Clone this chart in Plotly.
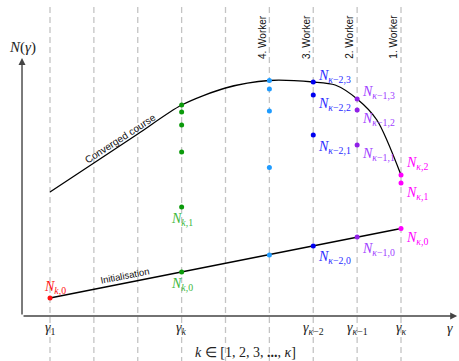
import plotly.graph_objects as go

# ---------------- data ----------------
# x positions are indices of the dashed gamma grid lines (0..8)
grid_x = [0, 1, 2, 3, 4, 5, 6, 7, 8]
tick_idx = [0, 3, 6, 7, 8]
tick_text = ["<i>γ</i><sub>1</sub>", "<i>γ</i><sub><i>k</i></sub>", "<i>γ</i><sub><i>κ</i>−2</sub>",
             "<i>γ</i><sub><i>κ</i>−1</sub>", "<i>γ</i><sub><i>κ</i></sub>"]

# Initialisation line
init_x = [0, 3, 5, 6, 7, 8]
init_y = [1.8, 4.4, 6.1, 7.0, 7.9, 8.75]

# Converged course
conv_x = [0, 1, 2, 3, 4, 5, 6, 6.5, 7, 7.45, 8]
conv_y = [12.4, 15.3, 18.2, 21.1, 22.8, 23.55, 23.4, 23.1, 21.7, 19.6, 14.1]

# worker columns
red_x, red_y = [0], [1.8]
green_x = [3, 3, 3, 3, 3, 3]
green_y = [4.4, 10.9, 16.4, 19.1, 20.4, 21.1]
lblue_x = [5, 5, 5, 5, 5]
lblue_y = [6.1, 14.85, 20.5, 22.7, 23.55]
blue_x = [6, 6, 6, 6]
blue_y = [7.0, 18.1, 22.1, 23.4]
purple_x = [7, 7, 7, 7]
purple_y = [7.9, 17.1, 20.6, 21.7]
mag_x = [8, 8, 8]
mag_y = [8.75, 13.3, 14.1]

worker_idx = [5, 6, 7, 8]
worker_text = ["4. Worker", "3. Worker", "2. Worker", "1. Worker"]

RED = "#ff1010"
GREEN = "#0b9a0b"
GREEN_T = "#3cb83c"
LBLUE = "#1e9bff"
BLUE = "#0000f0"
BLUE_T = "#2a2aff"
PURPLE = "#9020e8"
PURPLE_T = "#a040ff"
MAG = "#ff00ff"

SERIF = "Liberation Serif"
SANS = "Liberation Sans"

fig = go.Figure()

# dashed grid lines
for gx in grid_x:
    fig.add_trace(go.Scatter(x=[gx, gx], y=[30.9, -4.6], mode="lines",
                             line=dict(color="#c4c4c4", width=1.3, dash="6px,4px"),
                             hoverinfo="skip", showlegend=False))

# curves
fig.add_trace(go.Scatter(x=conv_x, y=conv_y, mode="lines", line=dict(color="black", width=1.3, shape="spline", smoothing=0.8),
                         showlegend=False, hoverinfo="skip"))
fig.add_trace(go.Scatter(x=init_x, y=init_y, mode="lines", line=dict(color="black", width=1.3),
                         showlegend=False, hoverinfo="skip"))

# points
for xs, ys, c in [(red_x, red_y, RED), (green_x, green_y, GREEN), (lblue_x, lblue_y, LBLUE),
                  (blue_x, blue_y, BLUE), (purple_x, purple_y, PURPLE), (mag_x, mag_y, MAG)]:
    fig.add_trace(go.Scatter(x=xs, y=ys, mode="markers", marker=dict(color=c, size=5),
                             showlegend=False, hoverinfo="skip"))

ann = []

def lab(x, y, txt, color, xshift=0, yshift=0, xanchor="center", size=14):
    ann.append(dict(x=x, y=y, text=txt, showarrow=False, xshift=xshift, yshift=yshift,
                    xanchor=xanchor, yanchor="middle", font=dict(family=SERIF, size=size, color=color)))

def N(sub):
    return "<i>N</i><sub>" + sub + "</sub>"

K = "<i>κ</i>"
lab(red_x[0], red_y[0], N("<i>k</i>,0"), RED, xshift=5, yshift=11)
lab(green_x[1], green_y[1], N("<i>k</i>,1"), GREEN_T, yshift=-12)
lab(green_x[0], green_y[0], N("<i>k</i>,0"), GREEN_T, yshift=-12)

for yv, s, ys in zip(blue_y, [K + "−2,0", K + "−2,1", K + "−2,2", K + "−2,3"], [-11, -12, -9, 6]):
    lab(blue_x[0], yv, N(s), BLUE_T, xshift=3, yshift=ys, xanchor="left")
for yv, s, ys in zip(purple_y, [K + "−1,0", K + "−1,1", K + "−1,2", K + "−1,3"], [-12, -9, -9, 7]):
    lab(purple_x[0], yv, N(s), PURPLE_T, xshift=3, yshift=ys, xanchor="left")
for yv, s, ys in zip(mag_y, [K + ",0", K + ",1", K + ",2"], [-10, -10, 12]):
    lab(mag_x[0], yv, N(s), MAG, xshift=3, yshift=ys, xanchor="left")

# tick labels
for ti, tt in zip(tick_idx, tick_text):
    ann.append(dict(x=ti, y=-1.25, text=tt, showarrow=False, font=dict(family=SERIF, size=14, color="#222")))
ann.append(dict(x=9.12, y=-1.2, text="<i>γ</i>", showarrow=False, font=dict(family=SERIF, size=14, color="#222")))
ann.append(dict(x=4.45, y=-3.65, text="<i>k</i> ∈ [1, 2, 3, <b>...</b>, <i>κ</i>]", showarrow=False,
                font=dict(family=SERIF, size=14, color="#222")))
ann.append(dict(x=-0.62, y=26.9, text="<i>N</i>(<i>γ</i>)", showarrow=False,
                font=dict(family=SERIF, size=15, color="#222")))

# worker labels
for wi, wt in zip(worker_idx, worker_text):
    ann.append(dict(x=wi, y=0.965, yref="paper", yanchor="top", text=wt, textangle=-90, showarrow=False,
                    xshift=-7, font=dict(family=SANS, size=10, color="#111")))

# curve labels
ann.append(dict(x=1.6, y=17.8, text="Converged course", textangle=-33, showarrow=False,
                font=dict(family=SANS, size=10, color="#111")))
ann.append(dict(x=1.71, y=4.05, text="Initialisation", textangle=-11, showarrow=False,
                font=dict(family=SANS, size=9.5, color="#111")))

# axes arrows
ann.append(dict(x=-0.638, y=25.8, ax=-0.638, ay=0, axref="x", ayref="y", xref="x", yref="y", text="",
                showarrow=True, arrowhead=2, arrowsize=1, arrowwidth=1.4, arrowcolor="#444"))
ann.append(dict(x=9.28, y=0, ax=-0.638, ay=0, axref="x", ayref="y", xref="x", yref="y", text="",
                showarrow=True, arrowhead=2, arrowsize=1, arrowwidth=1.4, arrowcolor="#444"))

fig.update_layout(
    width=459, height=361, margin=dict(l=0, r=0, t=0, b=0),
    paper_bgcolor="white", plot_bgcolor="white",
    xaxis=dict(range=[-1.1396, 9.3219], visible=False, fixedrange=True),
    yaxis=dict(range=[-4.5, 31.6], visible=False, fixedrange=True),
    annotations=ann, showlegend=False,
)

fig.write_html("out.html")
